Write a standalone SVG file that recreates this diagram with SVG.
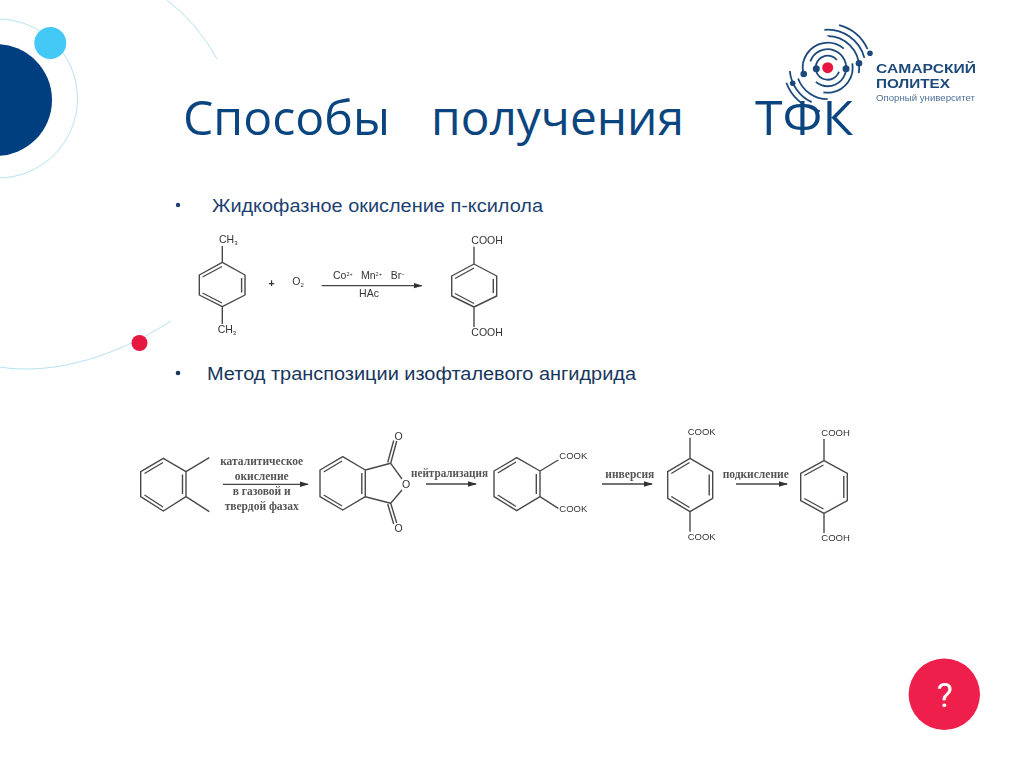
<svg xmlns="http://www.w3.org/2000/svg" width="1024" height="767" viewBox="0 0 1024 767">
<defs>
<style>
.orbit{fill:none;stroke:#b5e3f2;stroke-width:1}
.bond{fill:none;stroke:#4a4a4a;stroke-width:1.4;stroke-linejoin:round}
.arrow{fill:none;stroke:#444;stroke-width:1.3;marker-end:url(#head)}
.chem{font-family:"Liberation Sans",Arial,sans-serif;fill:#333}
.s9{font-size:9.5px}.s10{font-size:10.5px}
.ser{font-family:"Liberation Serif","Times New Roman",serif;font-size:11.5px;fill:#555;font-weight:bold;text-anchor:middle}
.title{font-family:"Open Sans","Noto Sans",sans-serif;font-size:48px;fill:#0b4580}
.body{font-family:"Liberation Sans",Arial,sans-serif;font-size:17.5px;fill:#1d3f73}
.arc{fill:none;stroke:#1d4a7c;stroke-width:1.8}
.logo{font-family:"Liberation Sans",Arial,sans-serif;fill:#1d4a7a}
</style>
<marker id="head" markerWidth="9" markerHeight="7" refX="8" refY="3.5" orient="auto" markerUnits="userSpaceOnUse"><path d="M0 0.8L9 3.500L0 6.200z" fill="#333"/></marker>
<filter id="soft" x="-5%" y="-5%" width="110%" height="110%"><feGaussianBlur stdDeviation="0.35"/></filter>
</defs>
<rect width="1024" height="767" fill="#fff"/>

<g id="decor">
<circle class="orbit" cx="-2" cy="98.5" r="79.5"/>
<path class="orbit" d="M167 0Q198 24 217 59"/>
<path class="orbit" d="M0 367C42 374 104 364 171 321"/>
<circle cx="-4" cy="100" r="56" fill="#003f7f"/>
<circle cx="50.300" cy="43" r="16" fill="#44c8f5"/>
<circle cx="139.500" cy="343" r="8" fill="#e8173f"/>
</g>

<g id="logo" filter="url(#soft)">
<circle class="arc" cx="827.700" cy="67.700" r="12" pathLength="360" stroke-dasharray="300 60" transform="rotate(20 827.700 67.700)"/>
<circle class="arc" cx="827.700" cy="67.700" r="18.500" pathLength="360" stroke-dasharray="290 70" transform="rotate(200 827.700 67.700)"/>
<circle class="arc" cx="827.700" cy="67.700" r="25" pathLength="360" stroke-dasharray="140 40 110 70" transform="rotate(170 827.700 67.700)"/>
<circle class="arc" cx="827.700" cy="67.700" r="31.500" pathLength="360" stroke-dasharray="100 80 70 110" transform="rotate(270 827.700 67.700)"/>
<circle class="arc" cx="827.700" cy="67.700" r="38" pathLength="360" stroke-dasharray="80 130 60 90" transform="rotate(265 827.700 67.700)"/>
<circle class="arc" cx="827.700" cy="67.700" r="44" pathLength="360" stroke-dasharray="50 125 60 125" transform="rotate(285 827.700 67.700)"/>
<circle cx="827.700" cy="67.700" r="5.500" fill="#e8173f"/>
<circle cx="816.300" cy="68.700" r="3.500" fill="#1d4a7c"/>
<circle cx="846" cy="68.700" r="3.500" fill="#1d4a7c"/>
<circle cx="803.700" cy="74" r="3.300" fill="#1d4a7c"/>
<circle cx="859" cy="63.300" r="3.300" fill="#1d4a7c"/>
<circle cx="792.700" cy="83.300" r="2.800" fill="#1d4a7c"/>
<circle cx="870" cy="53.300" r="2.800" fill="#1d4a7c"/>
<text class="logo" x="876" y="73" font-size="13" font-weight="bold" textLength="100" lengthAdjust="spacingAndGlyphs">САМАРСКИЙ</text>
<text class="logo" x="876" y="87.700" font-size="13" font-weight="bold" textLength="74" lengthAdjust="spacingAndGlyphs">ПОЛИТЕХ</text>
<text class="logo" x="876" y="100.500" font-size="9" textLength="99" lengthAdjust="spacingAndGlyphs" fill-opacity="0.8">Опорный университет</text>
</g>

<g id="title">
<text class="title" x="183" y="135" textLength="207" lengthAdjust="spacingAndGlyphs">Способы</text>
<text class="title" x="431" y="135" textLength="253" lengthAdjust="spacingAndGlyphs">получения</text>
<text class="title" x="755" y="135" textLength="98" lengthAdjust="spacingAndGlyphs">ТФК</text>
</g>

<g id="bullets">
<circle cx="178" cy="205" r="2.200" fill="#1d3f73"/>
<text class="body" x="212" y="211.500" textLength="331" lengthAdjust="spacingAndGlyphs">Жидкофазное окисление п-ксилола</text>
<circle cx="178" cy="373" r="2.300" fill="#17365d"/>
<text class="body" x="207" y="380" textLength="429" lengthAdjust="spacingAndGlyphs" style="fill:#17365d">Метод транспозиции изофталевого ангидрида</text>
</g>

<g id="connectors" filter="url(#soft)">
<path class="arrow" d="M321.700 285.700H421.700"/>
<path class="arrow" d="M223 484.300H308"/>
<path class="arrow" d="M426 484H476"/>
<path class="arrow" d="M602 484H652"/>
<path class="arrow" d="M736 484H787"/>
</g>

<g id="p-xylene" filter="url(#soft)">
<path class="bond" d="M222.300 262.300L245 275V295L222.300 306.700L199.300 295V275ZM202.500 277L222 266.500M241.600 278V292.500M202.500 293L222 303M222.300 262.300V246M222.300 306.700V324"/>
<text class="chem s10" x="219" y="242.700">CH<tspan font-size="6" dy="2">3</tspan></text>
<text class="chem s10" x="217.700" y="332.700">CH<tspan font-size="6" dy="2">3</tspan></text>
</g>
<g id="oxygen" filter="url(#soft)">
<text class="chem s10" x="268.500" y="286.500" font-weight="bold">+</text>
<text class="chem s10" x="292.300" y="285">O<tspan font-size="6" dy="2">2</tspan></text>
</g>
<g id="catalyst" filter="url(#soft)">
<text class="chem s10" x="333" y="279.300">Co<tspan font-size="5.500" dy="-3">2+</tspan></text>
<text class="chem s10" x="361" y="279.300">Mn<tspan font-size="5.500" dy="-3">2+</tspan></text>
<text class="chem s10" x="390.700" y="279.300">Br<tspan font-size="6" dy="-3">−</tspan></text>
<text class="chem s10" x="369" y="297" text-anchor="middle">HAc</text>
</g>
<g id="tpa-1" filter="url(#soft)">
<path class="bond" d="M474 264L496.700 276V296L474 307L451.700 296V276ZM455 278.500L474 268M493.300 279V293M455 293.500L474 303.500M474 264V246.700M474 307V327"/>
<text class="chem s10" x="471.300" y="244">COOH</text>
<text class="chem s10" x="471.300" y="336">COOH</text>
</g>

<g id="o-xylene" filter="url(#soft)">
<path class="bond" d="M163.300 458.300L186 471.700V496.700L163.300 511L140.700 496.700V471.700ZM144.500 473.500L163 462.500M182.500 474.500V494M144.500 495L163 507M186 471.700L209.300 457.700M186 496.700L209.300 511.700"/>
</g>
<g id="label-oxidation" filter="url(#soft)">
<text class="ser" x="261.700" y="465">каталитическое</text>
<text class="ser" x="261.700" y="480">окисление</text>
<text class="ser" x="261.700" y="495">в газовой и</text>
<text class="ser" x="261.700" y="510">твердой фазах</text>
</g>
<g id="anhydride" filter="url(#soft)">
<path class="bond" d="M342.700 456.700L365.300 470V496.700L342.700 510L320 496.700V470ZM323.700 472L342 461M361.800 473V494M323.700 495L342 506M365.300 470L390.700 463.300L402 479M402 490L390.700 503.300L365.300 496.700M390.700 463.300L396.700 441M387.700 462.500L393.700 440.500M390.700 503.300L396.700 523M387.700 504L393.700 524"/>
<text class="chem" x="398.700" y="439.500" font-size="10.500" text-anchor="middle">O</text>
<text class="chem" x="398.700" y="532" font-size="10.500" text-anchor="middle">O</text>
<text class="chem" x="406" y="487.500" font-size="10.500" text-anchor="middle">O</text>
</g>
<g id="label-neutral" filter="url(#soft)">
<text class="ser" x="449.500" y="477.300" textLength="77" lengthAdjust="spacingAndGlyphs">нейтрализация</text>
</g>
<g id="phthalate" filter="url(#soft)">
<path class="bond" d="M516.700 457.700L540 471V496.700L516.700 510.700L494 496.700V471ZM497.800 473L516 462M536.300 474V494M497.800 495L516 506.500M540 471L558.300 460M540 496.700L558.300 508.300"/>
<text class="chem s9" x="559.300" y="459.300">COOK</text>
<text class="chem s9" x="559.300" y="512">COOK</text>
</g>
<g id="label-inversion" filter="url(#soft)">
<text class="ser" x="629.800" y="478">инверсия</text>
</g>
<g id="terephthalate" filter="url(#soft)">
<path class="bond" d="M690 458.300L712.700 471.700V498.300L690 511.700L667.700 498.300V471.700ZM671.300 473.500L689.500 462.500M709.200 474.500V495.500M671.300 496.500L689.500 507.500M690 458.300V437.700M690 511.700V531.700"/>
<text class="chem s9" x="687.700" y="434.700">COOK</text>
<text class="chem s9" x="687.700" y="540">COOK</text>
</g>
<g id="label-acid" filter="url(#soft)">
<text class="ser" x="755.700" y="478">подкисление</text>
</g>
<g id="tpa-2" filter="url(#soft)">
<path class="bond" d="M824 460.700L847.300 473.300V500.700L824 513.300L800.700 500.700V473.300ZM804.300 475.500L823.500 465M843.800 476V498M804.300 498.500L823.500 509M824 460.700V439M824 513.300V533"/>
<text class="chem s9" x="821.300" y="436">COOH</text>
<text class="chem s9" x="821.300" y="541">COOH</text>
</g>

<g id="help">
<circle cx="944.300" cy="694.300" r="35.700" fill="#ee1f4b"/>
<text x="944.800" y="707" font-family="Roboto,'Liberation Sans',sans-serif" font-size="34" fill="#fff" text-anchor="middle">?</text>
</g>
</svg>
